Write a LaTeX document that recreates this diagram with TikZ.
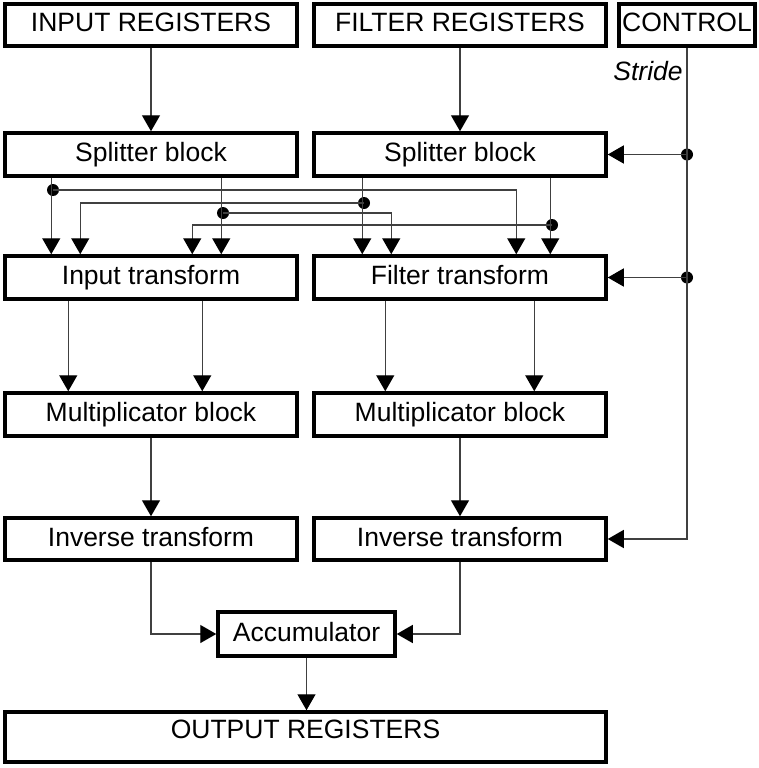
\documentclass[tikz,border=0pt]{standalone}
\usepackage{fontspec}
\setmainfont{Liberation Sans}
\usetikzlibrary{arrows.meta}
\begin{document}
\begin{tikzpicture}[x=1pt,y=-1pt,
 box/.style={draw=black,line width=3.5pt,fill=white,inner sep=0pt,font=\fontsize{26.5}{30}\selectfont,text height=19pt,text depth=5pt,minimum width=292pt,minimum height=43pt},
 wire/.style={draw=black!75,line width=1.4pt},
 arr/.style={wire,-{Triangle[length=16pt,width=18pt,fill=black,color=black]}},
 dot/.style={circle,fill=black,inner sep=0pt,minimum size=12pt},
 lbl/.style={font=\fontsize{26.5}{30}\selectfont\itshape,inner sep=0pt}]
\useasboundingbox (0,0) rectangle (758,768);
% boxes
\node[box,minimum height=42pt] (inreg) at (151,25) {INPUT REGISTERS};
\node[box,minimum height=42pt] (filreg) at (460,25) {FILTER REGISTERS};
\node[box,minimum height=42pt,minimum width=136pt] (ctrl) at (687,25) {CONTROL};
\node[box] (split1) at (151,154.5) {Splitter block};
\node[box] (split2) at (460,154.5) {Splitter block};
\node[box] (itf) at (151,277.5) {Input transform};
\node[box] (ftf) at (460,277.5) {Filter transform};
\node[box] (mul1) at (151,414.5) {Multiplicator block};
\node[box] (mul2) at (460,414.5) {Multiplicator block};
\node[box,minimum height=42pt] (inv1) at (151,539) {Inverse transform};
\node[box,minimum height=42pt] (inv2) at (460,539) {Inverse transform};
\node[box,minimum width=177pt,minimum height=44pt] (acc) at (306.5,634) {Accumulator};
\node[box,minimum width=601pt,minimum height=50pt,text depth=16pt] (out) at (305.5,737) {OUTPUT REGISTERS};
\node[lbl,anchor=base] (stride) at (648,81) {Stride};
% registers to splitters
\draw[arr] (inreg.south) -- (split1.north);
\draw[arr] (filreg.south) -- (split2.north);
% splitter crossings
\node[dot] (d1) at (53,190) {};
\node[dot] (d3) at (364,203) {};
\node[dot] (d2) at (223,213) {};
\node[dot] (d4) at (552,225) {};
\draw[arr] ([xshift=48pt]split1.south west) -- ([xshift=48pt]itf.north west);
\draw[arr] (d1.center) -| ([xshift=204pt]ftf.north west);
\draw[arr] ([xshift=218pt]split1.south west) -- ([xshift=218pt]itf.north west);
\draw[arr] (d2.center) -| ([xshift=79pt]ftf.north west);
\draw[arr] ([xshift=50pt]split2.south west) -- ([xshift=50pt]ftf.north west);
\draw[arr] (d3.center) -| ([xshift=77pt]itf.north west);
\draw[arr] ([xshift=238pt]split2.south west) -- ([xshift=238pt]ftf.north west);
\draw[arr] (d4.center) -| ([xshift=189pt]itf.north west);
% transforms to multiplicators
\draw[arr] ([xshift=65pt]itf.south west) -- ([xshift=65pt]mul1.north west);
\draw[arr] ([xshift=199pt]itf.south west) -- ([xshift=199pt]mul1.north west);
\draw[arr] ([xshift=73pt]ftf.south west) -- ([xshift=73pt]mul2.north west);
\draw[arr] ([xshift=222pt]ftf.south west) -- ([xshift=222pt]mul2.north west);
% multiplicators to inverse
\draw[arr] (mul1.south) -- (inv1.north);
\draw[arr] (mul2.south) -- (inv2.north);
% inverse to accumulator
\draw[arr] (inv1.south) |- (acc.west);
\draw[arr] (inv2.south) |- (acc.east);
\draw[arr] (acc.south) -- (acc.south |- out.north);
% control
\node[dot] (c1) at (ctrl.south |- split2.east) {};
\node[dot] (c2) at (ctrl.south |- ftf.east) {};
\draw[arr] (ctrl.south) |- (inv2.east);
\draw[arr] (c1.center) -- (split2.east);
\draw[arr] (c2.center) -- (ftf.east);
\end{tikzpicture}
\end{document}
